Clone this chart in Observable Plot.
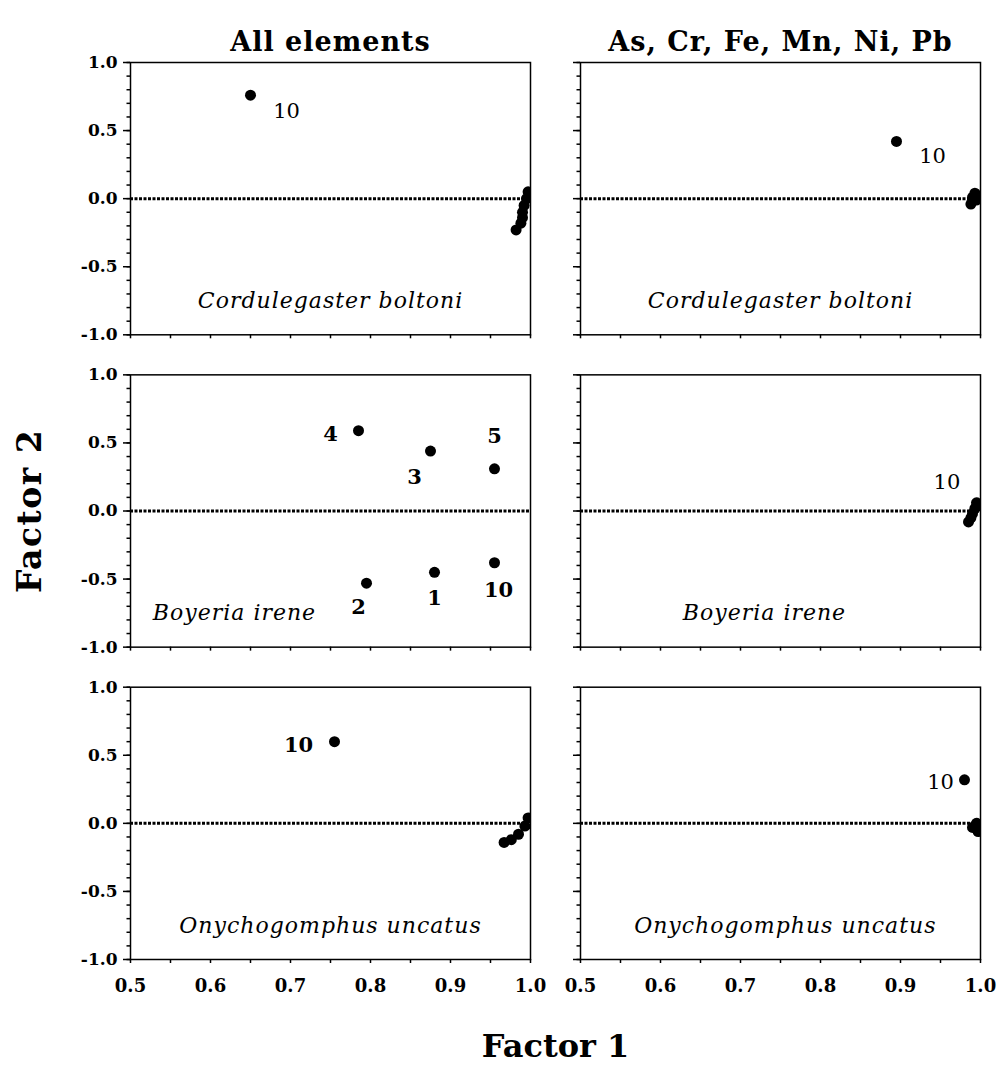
<!DOCTYPE html>
<html>
<head>
<meta charset="utf-8">
<script src="https://cdn.jsdelivr.net/npm/d3@7"></script>
<script src="https://cdn.jsdelivr.net/npm/@observablehq/plot@0.6"></script>
<style>
  html, body { margin: 0; padding: 0; background: #fff; }
</style>
</head>
<body>
<div id="chart"></div>
<script>
// Column (variable set) and row (species) categories
const columns = ["All elements", "As, Cr, Fe, Mn, Ni, Pb"];
const species = ["Cordulegaster boltoni", "Boyeria irene", "Onychogomphus uncatus"];

// Axis tick values
const xMinor = d3.range(0.5, 1.0001, 0.05);
const xMajor = [0.5, 0.6, 0.7, 0.8, 0.9, 1.0];
const yMinor = d3.range(-1, 1.0001, 0.1);
const yMajor = [-1.0, -0.5, 0.0, 0.5, 1.0];

// Factor loadings (Factor 1, Factor 2) per panel
const cbAllF1 = [0.65, 0.997, 0.995, 0.992, 0.99, 0.99, 0.988, 0.982];
const cbAllF2 = [0.76, 0.05, 0.0, -0.05, -0.1, -0.14, -0.18, -0.23];
const cbSubF1 = [0.895, 0.993, 0.99, 0.995, 0.988];
const cbSubF2 = [0.42, 0.04, 0.01, -0.01, -0.04];
const biAllF1 = [0.88, 0.795, 0.875, 0.785, 0.955, 0.955];
const biAllF2 = [-0.45, -0.53, 0.44, 0.59, 0.31, -0.38];
const biSubF1 = [0.995, 0.993, 0.99, 0.988, 0.985];
const biSubF2 = [0.06, 0.02, -0.02, -0.05, -0.08];
const ouAllF1 = [0.755, 0.967, 0.976, 0.985, 0.993, 0.997];
const ouAllF2 = [0.6, -0.14, -0.12, -0.08, -0.02, 0.04];
const ouSubF1 = [0.98, 0.995, 0.99, 0.997, 0.993];
const ouSubF2 = [0.32, 0.0, -0.03, -0.06, -0.02];

// Point labels (site numbers) and where they sit, in factor units
const labelText = ["10", "10", "4", "3", "5", "2", "1", "10", "10", "10", "10"];
const labelCol  = [0, 1, 0, 0, 0, 0, 0, 0, 1, 0, 1];
const labelRow  = [0, 0, 1, 1, 1, 1, 1, 1, 1, 2, 2];
const labelF1   = [0.695, 0.94, 0.75, 0.855, 0.955, 0.785, 0.88, 0.96, 0.958, 0.71, 0.95];
const labelF2   = [0.64, 0.31, 0.56, 0.25, 0.55, -0.71, -0.64, -0.58, 0.21, 0.57, 0.30];

// Species name placement per panel, in factor units
const speciesCol = [0, 1, 0, 1, 0, 1];
const speciesRow = [0, 0, 1, 1, 2, 2];
const speciesF1  = [0.75, 0.75, 0.63, 0.73, 0.75, 0.756];
const speciesF2  = [-0.75, -0.75, -0.75, -0.75, -0.75, -0.75];

// Build tables
const points = [];
function add(col, row, f1, f2) {
  f1.forEach((v, i) => points.push({col: columns[col], sp: species[row], f1: v, f2: f2[i]}));
}
add(0, 0, cbAllF1, cbAllF2);
add(1, 0, cbSubF1, cbSubF2);
add(0, 1, biAllF1, biAllF2);
add(1, 1, biSubF1, biSubF2);
add(0, 2, ouAllF1, ouAllF2);
add(1, 2, ouSubF1, ouSubF2);

const labels = labelText.map((t, i) => ({i, text: t, col: columns[labelCol[i]], sp: species[labelRow[i]], f1: labelF1[i], f2: labelF2[i]}));
const spLabels = speciesCol.map((c, i) => ({text: species[speciesRow[i]], col: columns[c], sp: species[speciesRow[i]], f1: speciesF1[i], f2: speciesF2[i]}));
const titles = columns.map(c => ({col: c, sp: species[0], text: c}));

const fmt = d => d.toFixed(1);
// labels drawn in regular weight (the rest are bold)
const regularLabels = new Set([0, 1, 8, 10]);

// render hook adding letter spacing to a text mark group
const spaced = (px) => (index, scales, values, dims, context, next) => {
  const g = next(index, scales, values, dims, context);
  if (g) g.setAttribute("letter-spacing", px);
  return g;
};

const chart = Plot.plot({
  width: 1002,
  height: 1079,
  marginTop: 62,
  marginBottom: 120,
  marginLeft: 130,
  marginRight: 22,
  style: {fontFamily: "DejaVu Serif", fontWeight: "bold", fontSize: "17px", background: "#fff", color: "#000"},
  fx: {domain: columns, paddingInner: 50 / 450, paddingOuter: 0, axis: null, round: false},
  fy: {domain: species, paddingInner: 40 / 312, paddingOuter: 0, axis: null, round: false},
  x: {domain: [0.5, 1.0]},
  y: {domain: [-1, 1]},
  marks: [
    Plot.ruleY([0], {stroke: "#000", strokeWidth: 3, strokeDasharray: "3,1.5"}),
    Plot.frame({stroke: "#000", strokeWidth: 1.5}),
    Plot.axisY({ticks: yMinor, tickSize: 3.5, tickFormat: () => "", facetAnchor: null, label: null, strokeWidth: 1.5}),
    Plot.axisY({ticks: yMajor, tickSize: 7, tickFormat: () => "", facetAnchor: null, label: null, strokeWidth: 1.5}),
    Plot.axisY({ticks: yMajor, tickSize: 0, tickPadding: 13, tickFormat: fmt, facetAnchor: "left", label: null, fontSize: 17, fontWeight: "bold"}),
    Plot.axisX({ticks: xMinor, tickSize: 4, tickFormat: () => "", facetAnchor: null, label: null, strokeWidth: 1.5}),
    Plot.axisX({ticks: xMajor, tickSize: 0, tickPadding: 20, tickFormat: fmt, facetAnchor: "bottom", label: null, fontSize: 18, fontWeight: "bold"}),
    Plot.dot(points, {x: "f1", y: "f2", fx: "col", fy: "sp", r: 5.5, fill: "#000", stroke: "none", clip: "frame"}),
    Plot.text(labels.filter(d => !regularLabels.has(d.i)), {x: "f1", y: "f2", fx: "col", fy: "sp", text: "text", fontSize: 21, fontWeight: "bold"}),
    Plot.text(labels.filter(d => regularLabels.has(d.i)), {x: "f1", y: "f2", fx: "col", fy: "sp", text: "text", fontSize: 21, fontWeight: "normal"}),
    Plot.text(spLabels, {x: "f1", y: "f2", fx: "col", fy: "sp", text: "text", fontSize: 22, fontStyle: "italic", fontWeight: "normal", render: spaced(1)}),
    Plot.text(titles, {fx: "col", fy: "sp", text: "text", frameAnchor: "top", dy: -31, fontSize: 27, fontWeight: "bold", render: spaced(1)}),
    Plot.text(["Factor 2"], {text: d => d, facet: "super", frameAnchor: "left", textAnchor: "middle", dx: -100, rotate: -90, fontSize: 33, fontWeight: "bold", render: spaced(1.5)}),
    Plot.text(["Factor 1"], {text: d => d, facet: "super", frameAnchor: "bottom", textAnchor: "middle", dy: 97, fontSize: 32, fontWeight: "bold"})
  ]
});
document.getElementById("chart").appendChild(chart);
</script>
</body>
</html>
